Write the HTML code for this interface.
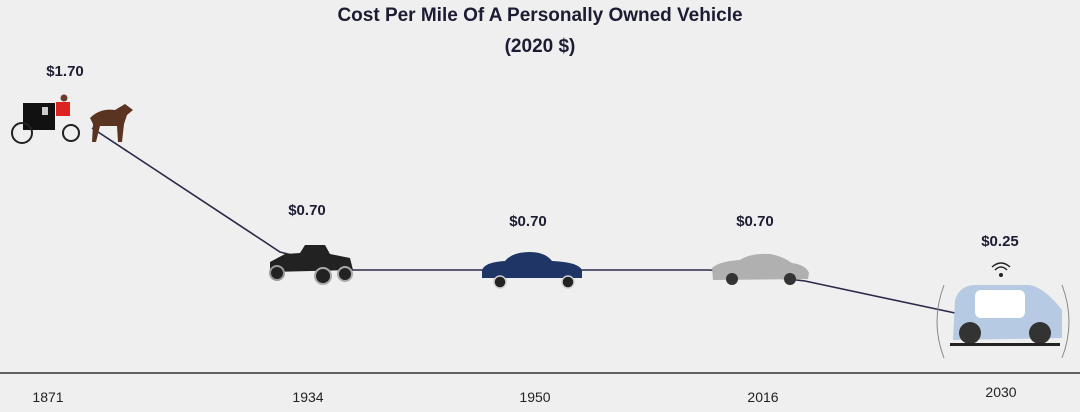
<!DOCTYPE html>
<html><head><style>
body{margin:0;width:1080px;height:407px;background:#efefef;overflow:hidden;font-family:"Liberation Sans",sans-serif}
</style></head><body>
<svg width="1080" height="407" viewBox="0 0 1080 407" xmlns="http://www.w3.org/2000/svg">
<rect width="1080" height="407" fill="#efefef"/>
<g font-family="Liberation Sans, sans-serif" font-weight="bold" fill="#1c1c33" text-anchor="middle">
<text x="540" y="21" font-size="19">Cost Per Mile Of A Personally Owned Vehicle</text>
<text x="540" y="52" font-size="19">(2020 $)</text>
<text x="65" y="76" font-size="15">$1.70</text>
<text x="307" y="215" font-size="15">$0.70</text>
<text x="528" y="226" font-size="15">$0.70</text>
<text x="755" y="226" font-size="15">$0.70</text>
<text x="1000" y="246" font-size="15">$0.25</text>
</g>
<g font-family="Liberation Sans, sans-serif" fill="#222" text-anchor="middle" font-size="14">
<text x="48" y="402">1871</text>
<text x="308" y="402">1934</text>
<text x="535" y="402">1950</text>
<text x="763" y="402">2016</text>
<text x="1001" y="397">2030</text>
</g>
<line x1="0" y1="373" x2="1080" y2="373" stroke="#333" stroke-width="1.5"/>
<polyline points="92,128 280,252 350,270 710,270 805,281 955,313" fill="none" stroke="#2a2a4a" stroke-width="1.6"/>
<!-- carriage -->
<rect x="23" y="103" width="32" height="27" fill="#111"/>
<rect x="42" y="107" width="6" height="8" fill="#ccc"/>
<rect x="56" y="102" width="14" height="14" fill="#d22"/>
<circle cx="64" cy="98" r="3.5" fill="#6a3a2a"/>
<circle cx="22" cy="133" r="10" fill="none" stroke="#222" stroke-width="2"/>
<circle cx="71" cy="133" r="8" fill="none" stroke="#222" stroke-width="2"/>
<path d="M90 118 Q100 108 115 110 L125 104 L133 110 L127 115 L124 124 L122 142 L118 142 L117 126 L100 126 L96 142 L92 142 L93 124 Z" fill="#5a3420"/>
<!-- 1934 car -->
<g transform="translate(265,240)">
<path d="M5 22 L20 14 L35 13 L40 5 L60 5 L65 14 L85 18 L88 30 L5 32 Z" fill="#222"/>
<circle cx="12" cy="33" r="7" fill="#222" stroke="#999" stroke-width="2"/>
<circle cx="58" cy="36" r="8" fill="#222" stroke="#aaa" stroke-width="2"/>
<circle cx="80" cy="34" r="7" fill="#222" stroke="#aaa" stroke-width="2"/>
</g>
<!-- 1950 car -->
<g transform="translate(480,252)">
<path d="M2 18 Q5 10 25 9 Q32 0 50 0 Q65 0 72 9 Q98 10 102 18 L102 26 L2 26 Z" fill="#1e3566"/>
<circle cx="20" cy="30" r="6" fill="#222" stroke="#ccc" stroke-width="1.5"/>
<circle cx="88" cy="30" r="6" fill="#222" stroke="#ccc" stroke-width="1.5"/>
</g>
<!-- 2016 car -->
<g transform="translate(710,253)">
<path d="M2 15 Q10 8 30 7 Q40 0 60 1 Q72 3 82 10 Q96 12 99 20 L98 26 L3 27 Z" fill="#b0b0b0"/>
<circle cx="22" cy="26" r="6" fill="#333"/>
<circle cx="80" cy="26" r="6" fill="#333"/>
</g>
<!-- 2030 pod -->
<path d="M944 285 Q930 322 944 358" fill="none" stroke="#888"/>
<path d="M1062 285 Q1076 322 1062 358" fill="none" stroke="#888"/>
<path d="M955 300 Q960 285 975 285 L1030 285 Q1045 288 1062 310 L1062 338 L953 340 Z" fill="#b6cbe3"/>
<rect x="975" y="290" width="50" height="28" rx="6" fill="#fff"/>
<circle cx="970" cy="333" r="11" fill="#333"/>
<circle cx="1040" cy="333" r="11" fill="#333"/>
<rect x="950" y="343" width="110" height="3" fill="#222"/>
<circle cx="1001" cy="275" r="2" fill="#222"/>
<path d="M995 270 Q1001 264 1007 270 M992 267 Q1001 259 1010 267" fill="none" stroke="#222" stroke-width="1.5"/>
</svg>
</body></html>
